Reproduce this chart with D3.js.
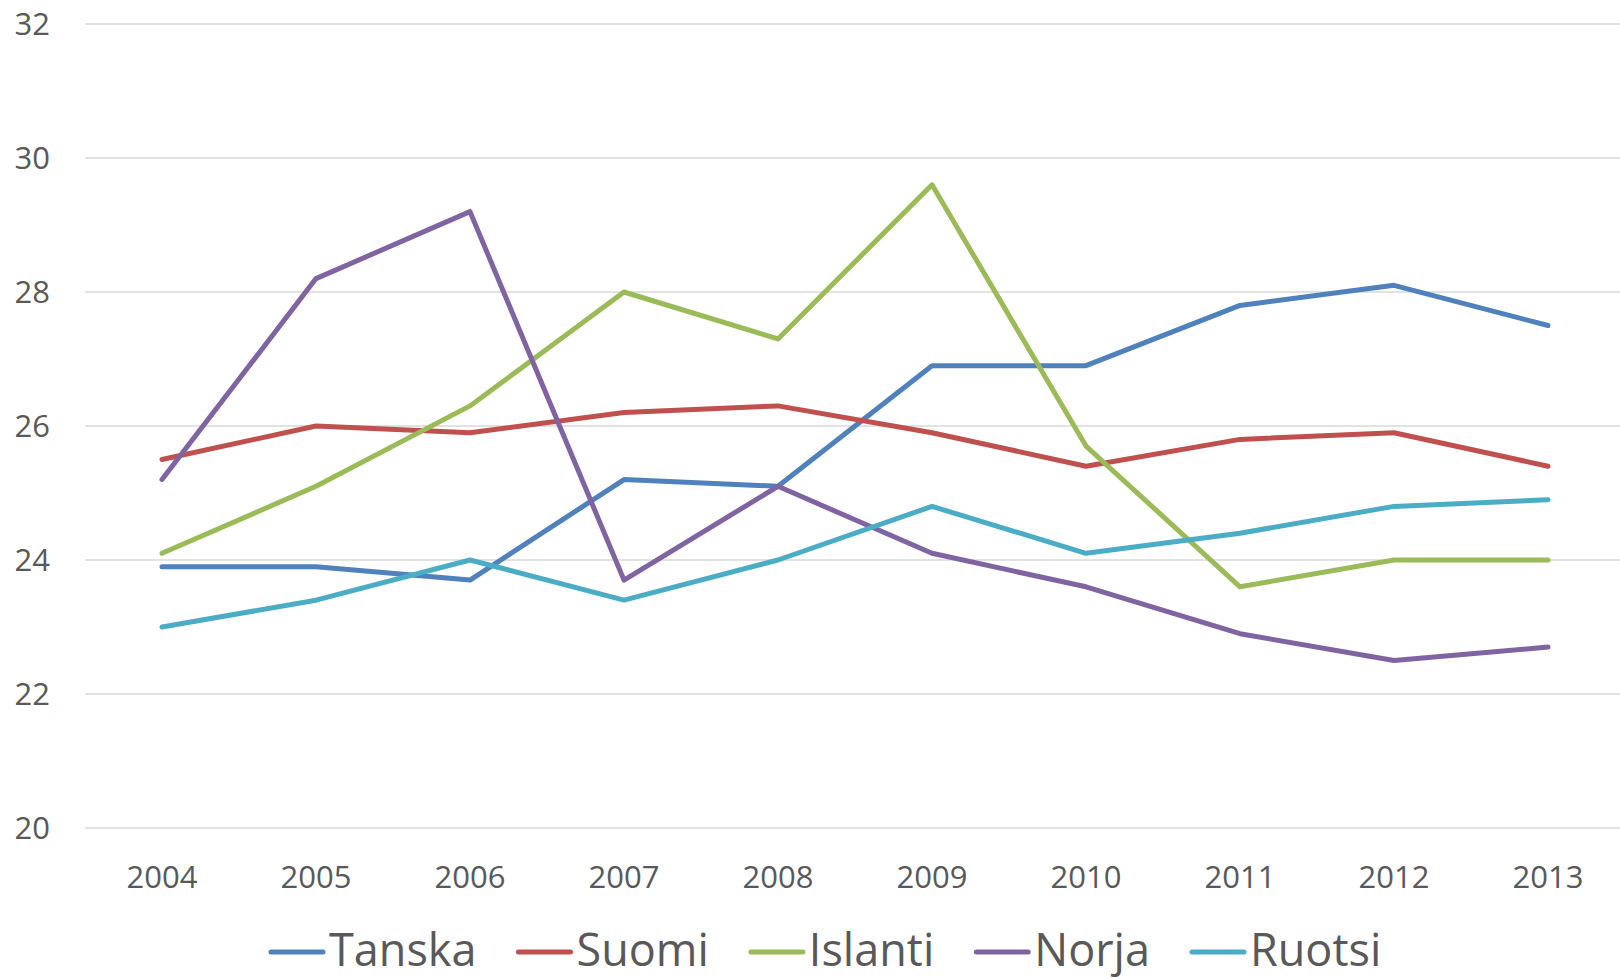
<!DOCTYPE html>
<html>
<head>
<meta charset="utf-8">
<script src="https://cdn.jsdelivr.net/npm/d3@7"></script>
<style>
  body { margin: 0; padding: 0; background: #fff; }
  text { font-family: "Open Sans", sans-serif; fill: #595959; }
</style>
</head>
<body>
<script>
// Nordic series, 2004-2013
const years = ["2004", "2005", "2006", "2007", "2008", "2009", "2010", "2011", "2012", "2013"];
const seriesNames = ["Tanska", "Suomi", "Islanti", "Norja", "Ruotsi"];
const tanska = [23.9, 23.9, 23.7, 25.2, 25.1, 26.9, 26.9, 27.8, 28.1, 27.5];
const suomi = [25.5, 26.0, 25.9, 26.2, 26.3, 25.9, 25.4, 25.8, 25.9, 25.4];
const islanti = [24.1, 25.1, 26.3, 28.0, 27.3, 29.6, 25.7, 23.6, 24.0, 24.0];
const norja = [25.2, 28.2, 29.2, 23.7, 25.1, 24.1, 23.6, 22.9, 22.5, 22.7];
const ruotsi = [23.0, 23.4, 24.0, 23.4, 24.0, 24.8, 24.1, 24.4, 24.8, 24.9];
const yTicks = [20, 22, 24, 26, 28, 30, 32];
const colors = ["#4F81BD", "#C0504D", "#9BBB59", "#8064A2", "#4BACC6"];

const allSeries = [tanska, suomi, islanti, norja, ruotsi];

const width = 1620, height = 980;
const svg = d3.select("body").append("svg")
  .attr("width", width)
  .attr("height", height);

// category centres; the plot area itself runs 85..1620
const x = d3.scalePoint()
  .domain(years)
  .range([162, 1548]);

const y = d3.scaleLinear()
  .domain([20, 32])
  .range([828, 24]);

// gridlines
svg.append("g")
  .selectAll("line")
  .data(yTicks)
  .join("line")
  .attr("x1", 85)
  .attr("x2", 1620)
  .attr("y1", d => y(d))
  .attr("y2", d => y(d))
  .attr("stroke", "#d9d9d9")
  .attr("stroke-width", 1.5);

// y labels
svg.append("g")
  .selectAll("text")
  .data(yTicks)
  .join("text")
  .attr("x", 50)
  .attr("y", d => y(d))
  .attr("dy", "0.36em")
  .attr("text-anchor", "end")
  .attr("font-size", "31px")
  .text(d => d);

// x labels
svg.append("g")
  .selectAll("text")
  .data(years)
  .join("text")
  .attr("x", d => x(d))
  .attr("y", 888)
  .attr("text-anchor", "middle")
  .attr("font-size", "31px")
  .text(d => d);

const line = d3.line()
  .x((d, i) => x(years[i]))
  .y(d => y(d));

svg.append("g")
  .selectAll("path")
  .data(allSeries)
  .join("path")
  .attr("d", line)
  .attr("fill", "none")
  .attr("stroke", (d, i) => colors[i])
  .attr("stroke-width", 5)
  .attr("stroke-linecap", "round")
  .attr("stroke-linejoin", "round");

// legend
const legend = svg.append("g");
let lx = 271;
seriesNames.forEach((name, i) => {
  legend.append("line")
    .attr("x1", lx)
    .attr("x2", lx + 52)
    .attr("y1", 952)
    .attr("y2", 952)
    .attr("stroke", colors[i])
    .attr("stroke-width", 5)
    .attr("stroke-linecap", "round");
  const t = legend.append("text")
    .attr("x", lx + 58)
    .attr("y", 966)
    .attr("font-size", "45px")
    .text(name);
  lx += 58 + t.node().getComputedTextLength() + 42;
});
</script>
</body>
</html>
